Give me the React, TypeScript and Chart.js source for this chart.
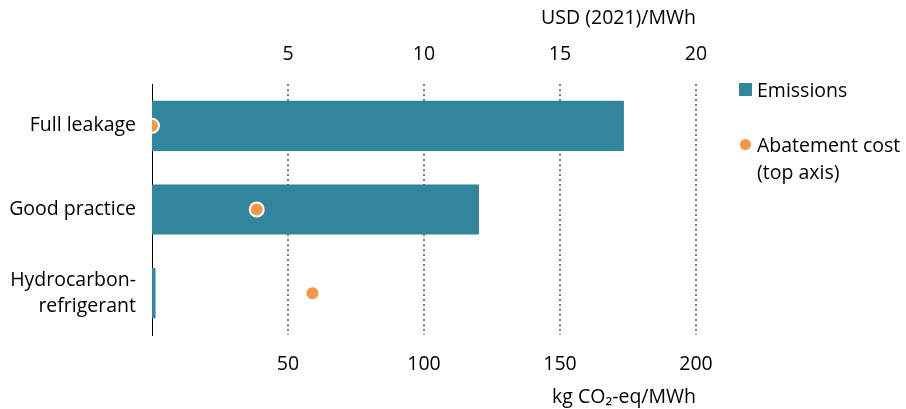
import React, { useEffect, useRef } from 'react';
import { Chart, registerables } from 'chart.js';

Chart.register(...registerables);

const categories: (string | string[])[] = ['Full leakage', 'Good practice', ['Hydrocarbon-', 'refrigerant']];
const emissions = [173.5, 120.2, 1.3];
const abatementCost = [0, 3.85, 5.9];
const bottomTickValues = [50, 100, 150, 200];
const topTickValues = [5, 10, 15, 20];

const TEAL = '#31859C';
const ORANGE = '#F79646';
const FONT = "'Open Sans', sans-serif";
const FS = 19.5;

export default function App() {
  const ref = useRef<HTMLCanvasElement>(null);

  useEffect(() => {
    document.body.style.margin = '0';
    const canvas = ref.current;
    if (!canvas) return;
    Chart.defaults.font.family = FONT;
    Chart.defaults.color = '#000';
    const chart = new Chart(canvas, {
      type: 'bar',
      data: {
        labels: categories as any,
        datasets: [
          {
            type: 'line',
            label: 'Abatement cost (top axis)',
            data: abatementCost,
            xAxisID: 'x2',
            yAxisID: 'y',
            showLine: false,
            pointRadius: 7,
            pointBorderWidth: 2,
            pointBackgroundColor: ORANGE,
            pointBorderColor: '#fff',
            order: 0,
          } as any,
          {
            type: 'bar',
            label: 'Emissions',
            data: emissions,
            xAxisID: 'x',
            yAxisID: 'y',
            backgroundColor: TEAL,
            barPercentage: 0.6,
            categoryPercentage: 1,
            order: 1,
          },
        ],
      },
      options: {
        indexAxis: 'y',
        animation: false,
        responsive: false,
        maintainAspectRatio: false,
        layout: { padding: { left: 0, right: 210, top: 0, bottom: 0 } },
        plugins: { legend: { display: false }, tooltip: { enabled: false } },
        scales: {
          x: {
            type: 'linear',
            position: 'bottom',
            min: 0,
            max: 200,
            afterBuildTicks: (s: any) => {
              s.ticks = bottomTickValues.map((v) => ({ value: v }));
            },
            afterFit: (s: any) => {
              s.height = 74;
            },
            ticks: { font: { size: FS, family: FONT }, color: '#000', padding: 18, maxRotation: 0 },
            grid: {
              color: '#808080',
              lineWidth: 2,
              drawTicks: false,
            },
            border: { display: false, dash: [2, 3] },
            title: {
              display: true,
              text: 'kg CO₂-eq/MWh',
              align: 'end',
              font: { size: FS, family: FONT },
              color: '#000',
              padding: { top: 0, bottom: 0 },
            },
          },
          x2: {
            type: 'linear',
            position: 'top',
            min: 0,
            max: 20,
            afterBuildTicks: (s: any) => {
              s.ticks = topTickValues.map((v) => ({ value: v }));
            },
            afterFit: (s: any) => {
              s.height = 84;
            },
            ticks: { font: { size: FS, family: FONT }, color: '#000', padding: 18, maxRotation: 0 },
            grid: { display: false, drawTicks: false },
            border: { display: false },
            title: {
              display: true,
              text: 'USD (2021)/MWh',
              align: 'end',
              font: { size: FS, family: FONT },
              color: '#000',
              padding: { top: 7, bottom: 0 },
            },
          },
          y: {
            type: 'category',
            position: 'left',
            offset: true,
            afterFit: (s: any) => {
              s.width = 152;
            },
            ticks: { font: { size: FS, family: FONT, lineHeight: 1.35 }, color: '#000', padding: 16 },
            grid: { drawOnChartArea: false, drawTicks: false, color: 'transparent' },
            border: { display: true, color: '#000', width: 1 },
          },
        },
      } as any,
    });
    return () => chart.destroy();
  }, []);

  const textStyle: React.CSSProperties = {
    position: 'absolute',
    left: 757,
    fontFamily: FONT,
    fontSize: FS,
    color: '#000',
    lineHeight: '27px',
    whiteSpace: 'nowrap',
  };

  return (
    <div style={{ position: 'fixed', left: 0, top: 0, width: 906, height: 409, background: '#fff' }}>
      <canvas ref={ref} width={906} height={409} style={{ width: 906, height: 409, display: 'block' }} />
      <div style={{ position: 'absolute', left: 739, top: 83, width: 13, height: 13, background: TEAL }} />
      <div style={{ ...textStyle, top: 89 - 13.5 }}>Emissions</div>
      <div
        style={{
          position: 'absolute',
          left: 740,
          top: 139,
          width: 11,
          height: 11,
          borderRadius: '50%',
          background: ORANGE,
        }}
      />
      <div style={{ ...textStyle, top: 144 - 13.5 }}>
        Abatement cost
        <br />
        (top axis)
      </div>
    </div>
  );
}
